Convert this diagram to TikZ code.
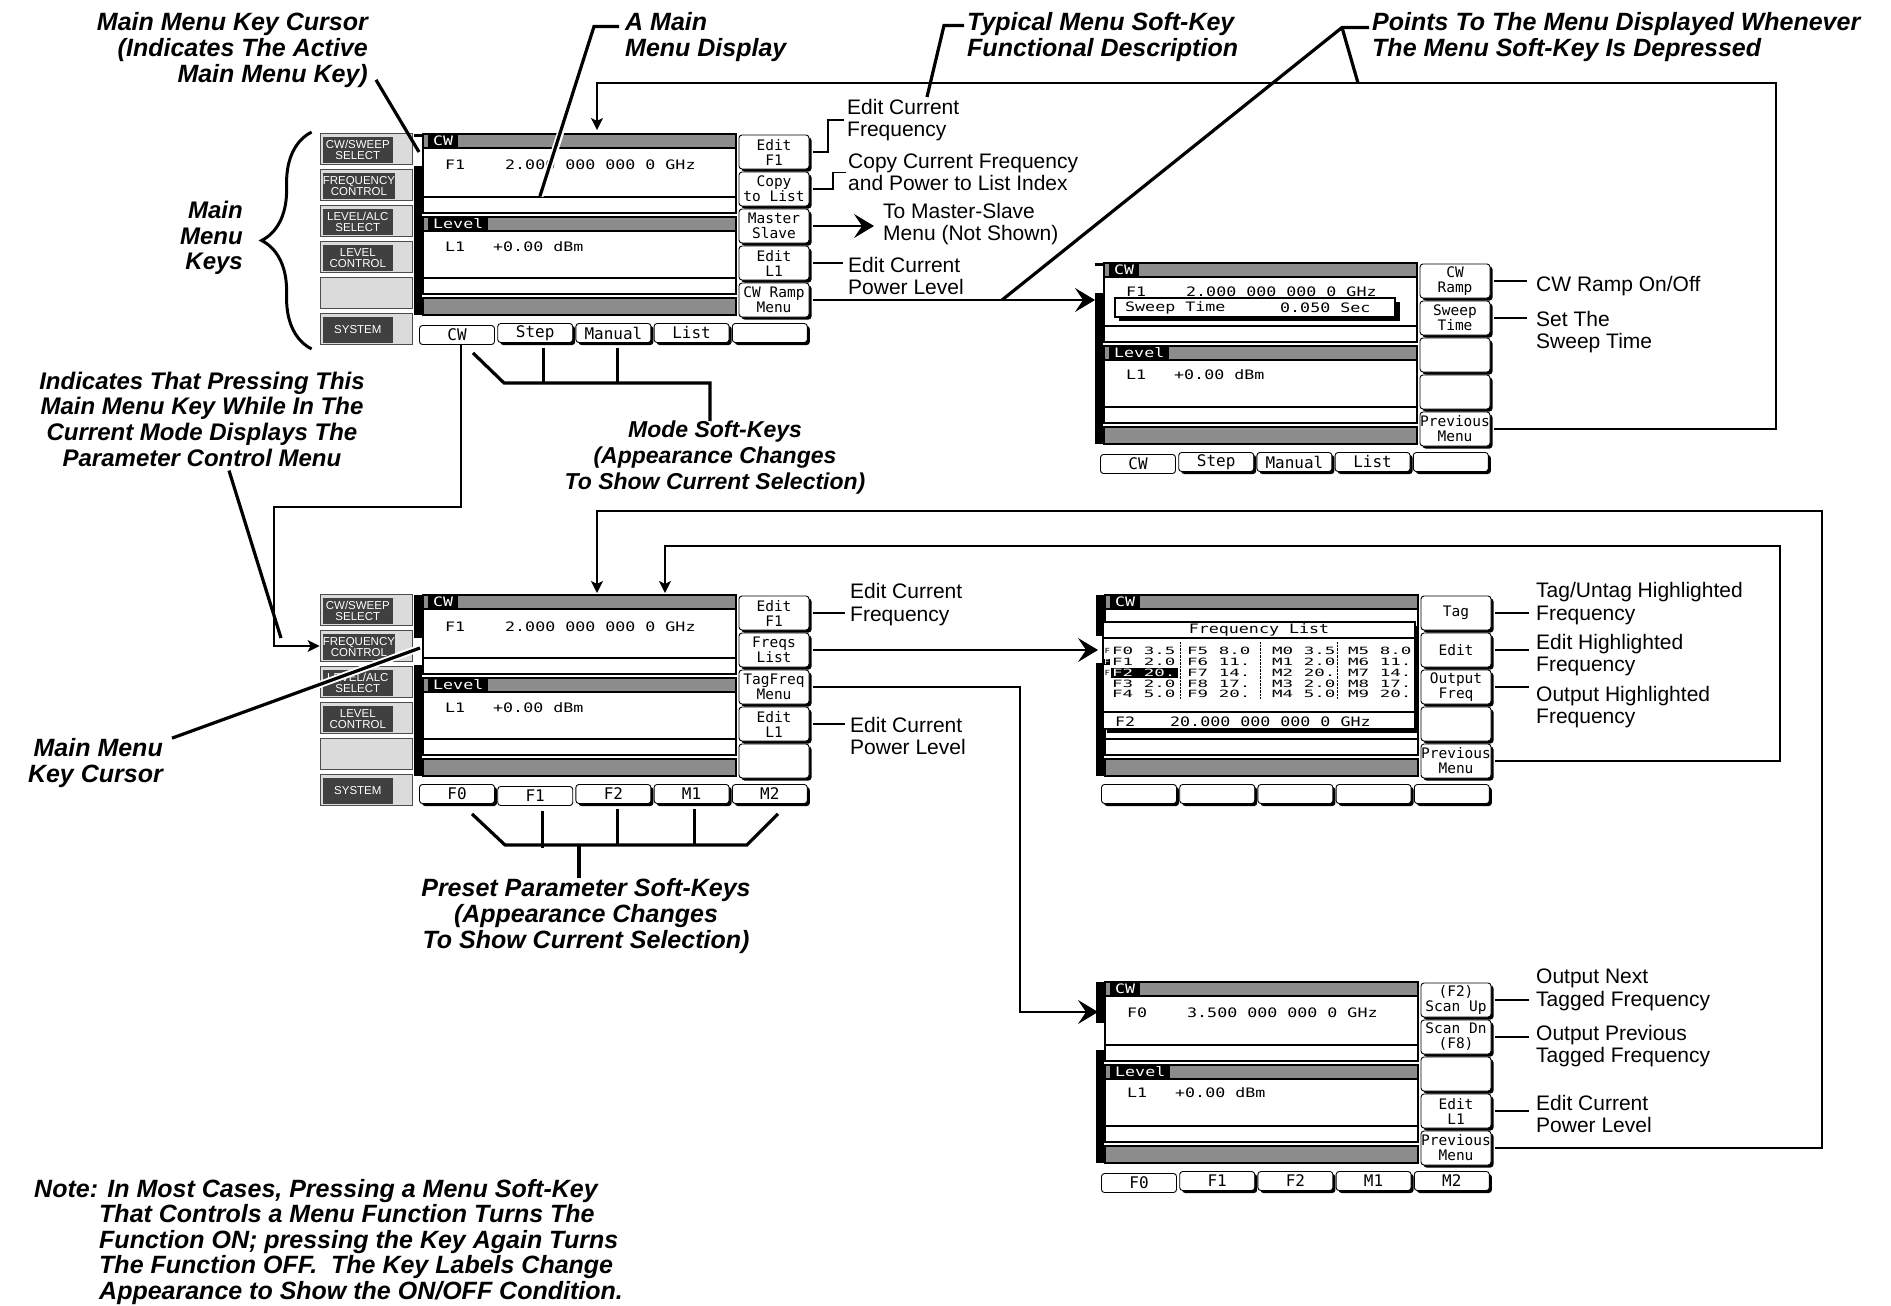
\documentclass[tikz,border=0pt]{standalone}
\usepackage{fontspec}
\setmainfont{Liberation Sans}
\newfontfamily\keymono{DejaVu Sans Mono}
\newfontfamily\dispmono{DejaVu Sans Mono}[FakeStretch=1.28]
\newfontfamily\listmono{DejaVu Sans Mono}[FakeStretch=1.75]
\usepackage{tikz}
\usetikzlibrary{arrows.meta,shadows,decorations.pathreplacing,positioning}

\definecolor{keygray}{gray}{0.86}
\definecolor{keydark}{gray}{0.25}
\definecolor{hatchgray}{gray}{0.55}

\newcommand{\lblfont}{\fontsize{21}{22.5}\selectfont}
\newcommand{\ttlfont}{\fontsize{25}{26}\selectfont\bfseries\itshape}
\newcommand{\widefont}{\fontsize{24}{25.7}\selectfont\bfseries\itshape}
\newcommand{\keyfont}{\fontsize{14.5}{15}\selectfont\keymono}
\newcommand{\bkeyfont}{\fontsize{16}{16}\selectfont\keymono}
\newcommand{\dispfont}{\fontsize{13}{14}\selectfont\dispmono}
\newcommand{\listfont}{\fontsize{10}{10}\selectfont\listmono}
\newcommand{\mkfont}{\fontsize{11.5}{11}\selectfont}
\newcommand{\tagfont}{\fontsize{7}{7}\selectfont\dispmono}

\tikzset{
  skey/.style={draw, line width=0.9pt, rounded corners=3pt, fill=white,
    minimum width=70pt, minimum height=34pt, inner sep=0pt, align=center,
    font=\keyfont, general shadow={fill=black, shadow xshift=2.5pt, shadow yshift=-2.5pt}},
  bkey/.style={skey, minimum width=75pt, minimum height=19pt, font=\bkeyfont},
  bkeysel/.style={draw, line width=0.9pt, rounded corners=3pt, fill=white,
    minimum width=75pt, minimum height=19pt, inner sep=0pt, font=\bkeyfont},
  mkey/.style={draw=black!70, line width=0.8pt, fill=keygray,
    minimum width=92pt, minimum height=31pt, inner sep=0pt},
  mkin/.style={fill=keydark, text=white, minimum width=70pt, minimum height=26pt,
    inner sep=0pt, align=center, font=\mkfont, anchor=west},
  hdr/.style={fill=black, text=white, font=\dispfont, inner xsep=5pt, inner ysep=0pt,
    minimum height=12pt, anchor=west},
  disp/.style={font=\dispfont, inner sep=0pt, anchor=west},
  lst/.style={font=\listfont, inner sep=0pt, anchor=west},
  tagf/.style={font=\tagfont, inner sep=0.5pt, anchor=west},
  lbl/.style={font=\lblfont, align=left, anchor=west, inner sep=0pt},
  ttl/.style={font=\ttlfont, inner sep=0pt},
  widettl/.style={font=\widefont, inner sep=0pt},
  conn/.style={line width=1.3pt},
  pointer/.style={line width=3.2pt},
  halo/.style={white, line width=7pt},
  bigarrow/.style={conn, -{Stealth[length=20pt,width=24pt,inset=8pt]}},
  smallarrow/.style={conn, -{Stealth[length=12pt,width=12pt,inset=3pt]}},
}

% display area of a screen (origin = top left of the CW bar)
\newcommand{\dispframe}{%
  \fill[hatchgray] (0,0) rectangle (313,14);
  \fill[hatchgray] (0,83) rectangle (313,97);
  \fill[hatchgray] (0,164) rectangle (313,181);
  \draw[line width=1.2pt] (0,0) rectangle (313,79) (0,14) -- (313,14) (0,63) -- (313,63);
  \draw[line width=1.2pt] (0,83) rectangle (313,160) (0,97) -- (313,97) (0,144) -- (313,144);
  \draw[line width=1.2pt] (0,164) rectangle (313,181);
  \node[hdr] at (5,7) {CW};
  \node[hdr] at (5,90) {Level};
}
% black bar left of the display, broken at the cursor
\newcommand{\cursorbar}[2]{%
  \fill (-9,0) rectangle (-1,#1);
  \fill (-9,#2) rectangle (-1,181);
}
% main menu keys
\newcommand{\mainkeys}[1]{%
  \foreach \i in {0,...,5}
    \node[mkey] (#1-mk\i) at (-57,{15+36*\i}) {};
  \foreach \i/\t in {0/{CW/SWEEP\\SELECT},1/{FREQUENCY\\CONTROL},2/{LEVEL/ALC\\SELECT},3/{LEVEL\\CONTROL},5/{SYSTEM}}
    \node[mkin] at ([xshift=3pt,yshift=-1pt]#1-mk\i.west) {\t};
}
% menu soft-keys on the right
\newcommand{\softkeys}[2]{%
  \foreach \t [count=\i] in {#2}
    \node[skey] (#1-sk\i) at (351,{18+37*(\i-1)}) {\t};
}
% soft-keys below the display, #2 = selected one
\newcommand{\bottomkeys}[3]{%
  \foreach \t [count=\i] in {#3}{
    \ifnum\i=#2\relax
      \node[bkeysel] (#1-bk\i) at ({34+78.2*(\i-1)},201) {\t};
    \else
      \node[bkey] (#1-bk\i) at ({34+78.2*(\i-1)},199) {\t};
    \fi}
}

\begin{document}
\begin{tikzpicture}[x=1pt,y=-1pt]
\useasboundingbox (0,0) rectangle (1891,1306);

% screen A: main menu display
\begin{scope}[shift={(423,134)}]
  \mainkeys{A}
  \cursorbar{3}{32}
  \dispframe
  \node[disp] at (22,31) {F1};
  \node[disp] at (82,31) {2.000 000 000 0 GHz};
  \node[disp] at (22,113) {L1};
  \node[disp] at (70,113) {+0.00 dBm};
  \softkeys{A}{{Edit\\F1},{Copy\\to List},{Master\\Slave},{Edit\\L1},{CW Ramp\\Menu}}
  \bottomkeys{A}{1}{CW,Step,Manual,List,{}}
  \coordinate (A-in) at (174,-4);
  \coordinate (A-cur) at (-4,18);
  \coordinate (A-dsp) at (117,62);
\end{scope}

% screen B: CW ramp menu
\begin{scope}[shift={(1104,263)}]
  \cursorbar{3}{30}
  \dispframe
  \node[disp] at (22,29) {F1};
  \node[disp] at (82,29) {2.000 000 000 0 GHz};
  \fill (15,39) rectangle (296,58);
  \draw[line width=1.2pt, fill=white] (11,35) rectangle (291,54);
  \node[disp] at (21,44.5) {Sweep Time};
  \node[disp] at (176,44.5) {0.050 Sec};
  \node[disp] at (22,112) {L1};
  \node[disp] at (70,112) {+0.00 dBm};
  \softkeys{B}{{CW\\Ramp},{Sweep\\Time},{},{},{Previous\\Menu}}
  \bottomkeys{B}{1}{CW,Step,Manual,List,{}}
  \coordinate (B-in) at (-9,37);
\end{scope}

% screen C: parameter control menu
\begin{scope}[shift={(423,595)}]
  \mainkeys{C}
  \cursorbar{43}{70}
  \dispframe
  \node[disp] at (22,32) {F1};
  \node[disp] at (82,32) {2.000 000 000 0 GHz};
  \node[disp] at (22,113) {L1};
  \node[disp] at (70,113) {+0.00 dBm};
  \softkeys{C}{{Edit\\F1},{Freqs\\List},{TagFreq\\Menu},{Edit\\L1},{}}
  \bottomkeys{C}{2}{F0,F1,F2,M1,M2}
  \coordinate (C-in1) at (174,-2);
  \coordinate (C-in2) at (242,-2);
  \coordinate (C-cur) at (-3,53);
\end{scope}

% screen D: frequency list
\begin{scope}[shift={(1105,595)}]
  \cursorbar{41}{68}
  \dispframe
  \fill (2,31) rectangle (314,138);
  \draw[line width=1.5pt, fill=white] (-2,27) rectangle (310,134);
  \draw[line width=1.2pt] (-2,43) -- (310,43) (-2,117) -- (310,117);
  \node[disp, anchor=center] at (154,35) {Frequency List};
  \foreach \x in {75,155,232}
    \draw[densely dotted] (\x,47) -- (\x,104);
  \fill (6,72.6) rectangle (73,82.6);
  \foreach \a/\b/\c/\d [count=\row from 0] in
    {F0 3.5/F5 8.0/M0 3.5/M5 8.0, F1 2.0/F6 11./M1 2.0/M6 11.,
     F2 20./F7 14./M2 20./M7 14., F3 2.0/F8 17./M3 2.0/M8 17.,
     F4 5.0/F9 20./M4 5.0/M9 20.}{
    \edef\rowcol{\ifnum\row=2 white\else black\fi}
    \node[lst, text=\rowcol] at (7,{56+10.8*\row}) {\a};
    \node[lst] at (82,{56+10.8*\row}) {\b};
    \node[lst] at (167,{56+10.8*\row}) {\c};
    \node[lst] at (243,{56+10.8*\row}) {\d};
  }
  \node[tagf] at (-1,56) {F};
  \node[tagf, fill=black, text=white] at (-1.5,66.8) {F};
  \node[tagf] at (-1,77.6) {F};
  \node[disp] at (10,127) {F2};
  \node[disp] at (65,127) {20.000 000 000 0 GHz};
  \softkeys{D}{{Tag},{Edit},{Output\\Freq},{},{Previous\\Menu}}
  \bottomkeys{D}{0}{{},{},{},{},{}}
  \coordinate (D-in) at (-7,55);
\end{scope}

% screen E: tagged frequency menu
\begin{scope}[shift={(1105,982)}]
  \cursorbar{41}{68}
  \dispframe
  \node[disp] at (22,31) {F0};
  \node[disp] at (82,31) {3.500 000 000 0 GHz};
  \node[disp] at (22,111) {L1};
  \node[disp] at (70,111) {+0.00 dBm};
  \softkeys{E}{{(F2)\\Scan Up},{Scan Dn\\(F8)},{},{Edit\\L1},{Previous\\Menu}}
  \bottomkeys{E}{1}{F0,F1,F2,M1,M2}
  \coordinate (E-in) at (-7,30);
\end{scope}

% titles
\node[ttl, anchor=east, align=right] (cursorlbl) at (368,50) {Main Menu Key Cursor\\(Indicates The Active\\Main Menu Key)};
\node[ttl, anchor=west, align=left] (dispttl) at (625,37.5) {A Main\\Menu Display};
\node[ttl, anchor=west, align=left] (typttl) at (967,37.5) {Typical Menu Soft-Key\\Functional Description};
\node[ttl, anchor=west, align=left] (ptsttl) at (1372,37.5) {Points To The Menu Displayed Whenever\\The Menu Soft-Key Is Depressed};
\node[widettl, anchor=east, align=right] (keyslbl) at (243,238) {Main\\Menu\\Keys};
\node[widettl, align=center] (indlbl) at (202,419) {Indicates That Pressing This\\Main Menu Key While In The\\Current Mode Displays The\\Parameter Control Menu};
\node[widettl, align=center, font=\fontsize{23}{26}\selectfont\bfseries\itshape] (modelbl) at (715,458) {Mode Soft-Keys\\(Appearance Changes\\To Show Current Selection)};
\node[ttl, align=center] (presetlbl) at (586,916) {Preset Parameter Soft-Keys\\(Appearance Changes\\To Show Current Selection)};
\node[ttl, anchor=east, align=right] (curlbl2) at (163,763) {Main Menu\\Key Cursor};
\node[ttl, anchor=west, align=left, font=\fontsize{25}{25.5}\selectfont\bfseries\itshape] (notelbl) at (34,1242) {Note: In Most Cases, Pressing a Menu Soft-Key\\
  \hspace*{65pt}That Controls a Menu Function Turns The\\
  \hspace*{65pt}Function ON; pressing the Key Again Turns\\
  \hspace*{65pt}The Function OFF.\ \ The Key Labels Change\\
  \hspace*{65pt}Appearance to Show the ON/OFF Condition.};

% soft-key descriptions
\node[lbl] (lblA1) at (847,120) {Edit Current\\Frequency};
\node[lbl] (lblA2) at (848,172.5) {Copy Current Frequency\\and Power to List Index};
\node[lbl] (lblA3) at (883,224) {To Master-Slave\\Menu (Not Shown)};
\node[lbl] (lblA4) at (848,276) {Edit Current\\Power Level};
\node[lbl] (lblB1) at (1536,286) {CW Ramp On/Off};
\node[lbl] (lblB2) at (1536,332) {Set The\\Sweep Time};
\node[lbl] (lblC1) at (850,604.5) {Edit Current\\Frequency};
\node[lbl] (lblC4) at (850,736) {Edit Current\\Power Level};
\node[lbl] (lblD1) at (1536,603.5) {Tag/Untag Highlighted\\Frequency};
\node[lbl] (lblD2) at (1536,655) {Edit Highlighted\\Frequency};
\node[lbl] (lblD3) at (1536,707) {Output Highlighted\\Frequency};
\node[lbl] (lblE1) at (1536,990) {Output Next\\Tagged Frequency};
\node[lbl] (lblE2) at (1536,1046) {Output Previous\\Tagged Frequency};
\node[lbl] (lblE4) at (1536,1114) {Edit Current\\Power Level};

% pointers of the titles
\coordinate (typend) at (927,97);
\coordinate (ptsA) at (1002,300);
\coordinate (ptsB) at (1358,83);
\coordinate (indend) at (281,638);
\draw[pointer] ([xshift=8pt,yshift=8pt]cursorlbl.south east) -- (A-cur);
\draw[halo] ([xshift=-30pt,yshift=11pt]dispttl.west) -- (A-dsp);
\draw[pointer] ([xshift=-6pt,yshift=11pt]dispttl.west) -- ([xshift=-31pt,yshift=11pt]dispttl.west) -- (A-dsp);
\draw[pointer] ([xshift=-3pt,yshift=12pt]typttl.west) -- ([xshift=-23pt,yshift=12pt]typttl.west) -- (typend);
\draw[pointer] ([xshift=-3pt,yshift=10pt]ptsttl.west) -- ([xshift=-30pt,yshift=10pt]ptsttl.west) -- (ptsA);
\draw[pointer] ([xshift=-30pt,yshift=10pt]ptsttl.west) -- (ptsB);
\draw[line width=3pt, decorate, decoration={brace, amplitude=50pt}]
  ([xshift=-8pt,yshift=-4pt]A-mk5.south west) -- ([xshift=-8pt,yshift=1pt]A-mk0.north west);
\draw[pointer] ([xshift=27pt,yshift=-4pt]indlbl.south) -- (indend);
\draw[halo] ([xshift=9pt]curlbl2.north east) -- (C-cur);
\draw[pointer] ([xshift=9pt]curlbl2.north east) -- (C-cur);

% mode soft-keys
\draw[pointer] ([xshift=16pt,yshift=-8pt]A-bk1.south) -- ++(31,30) -| ([xshift=-5pt]modelbl.north);
\foreach \k/\dx in {2/8,3/4}
  \draw[pointer] ([xshift=\dx pt,yshift=-5pt]A-bk\k.south) -- ++(0,34);

% preset parameter soft-keys
\coordinate (presetjoin) at (579,845);
\draw[pointer] ([xshift=15pt,yshift=-10pt]C-bk1.south) -- ++(33,31) -- ++(242,0) -- ++(31,-31);
\foreach \k/\dx in {2/7,3/4,4/2.5}
  \draw[pointer] ([xshift=\dx pt,yshift=-5pt]C-bk\k.south) -- ++(0,{845-808});
\draw[pointer] (presetjoin) -- (presetjoin |- presetlbl.north);

% connectors of screen A
\draw[conn] ([xshift=4pt]A-sk1.east) -| ([xshift=-19pt]lblA1.west) -- ([xshift=-3pt]lblA1.west);
\draw[conn] ([xshift=4pt]A-sk2.east) -| ([xshift=-15pt]lblA2.west) -- ([xshift=-2pt]lblA2.west);
\draw[bigarrow] ([xshift=4pt]A-sk3.east) -- ([xshift=-9pt]lblA3.west |- A-sk3.east);
\draw[conn] ([xshift=4pt]A-sk4.east) -- ([xshift=-5pt]lblA4.west |- A-sk4.east);
\draw[bigarrow] ([xshift=4pt]A-sk5.east) -- (B-in |- A-sk5.east);
\draw[smallarrow] ([xshift=4pt]A-bk1.south) |- (274,507) |- (C-mk1.west);

% connectors of screen B
\draw[conn] ([xshift=4pt]B-sk1.east) -- ([xshift=-9pt]lblB1.west |- B-sk1.east);
\draw[conn] ([xshift=4pt]B-sk2.east) -- ([xshift=-9pt]lblB2.west |- B-sk2.east);
\draw[smallarrow] ([xshift=4pt]B-sk5.east) -| (1776,83) -| (A-in);

% connectors of screen C
\draw[conn] ([xshift=4pt]C-sk1.east) -- ([xshift=-5pt]lblC1.west |- C-sk1.east);
\draw[bigarrow] ([xshift=4pt]C-sk2.east) -- (D-in |- C-sk2.east);
\draw[bigarrow] ([xshift=4pt]C-sk3.east) -| (1020,1012) -- (E-in);
\draw[conn] ([xshift=4pt]C-sk4.east) -- ([xshift=-5pt]lblC4.west |- C-sk4.east);

% connectors of screens D and E
\foreach \k in {1,2,3}
  \draw[conn] ([xshift=4pt]D-sk\k.east) -- ([xshift=-7pt]lblD\k.west |- D-sk\k.east);
\draw[smallarrow] ([xshift=4pt]D-sk5.east) -| (1780,546) -| (C-in2);
\foreach \k in {1,2,4}
  \draw[conn] ([xshift=4pt]E-sk\k.east) -- ([xshift=-7pt]lblE\k.west |- E-sk\k.east);
\draw[smallarrow] ([xshift=4pt]E-sk5.east) -| (1822,511) -| (C-in1);

\end{tikzpicture}
\end{document}
